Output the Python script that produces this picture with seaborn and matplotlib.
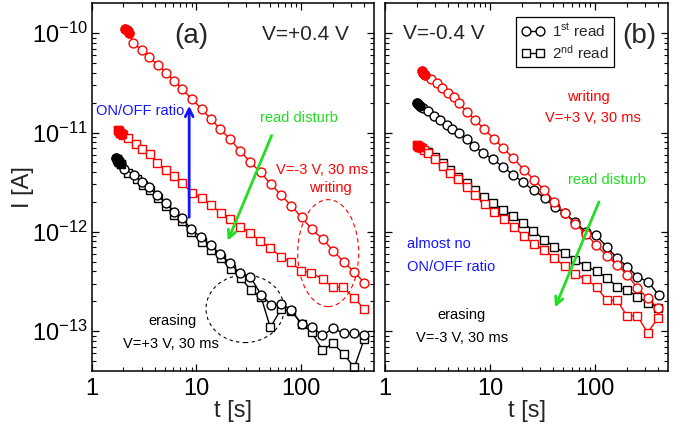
import numpy as np
import pandas as pd
import seaborn as sns
import matplotlib
matplotlib.use("Agg")
import matplotlib.pyplot as plt
from matplotlib.patches import Ellipse
from matplotlib.lines import Line2D
from matplotlib.ticker import FixedLocator, NullFormatter, LogFormatterSciNotation

# ---------------- data ----------------
# panel (a): V = +0.4 V read
ta_w1 = [2.10, 2.15, 2.20, 2.25, 2.49, 2.99, 3.54, 4.25, 5.10, 6.12, 7.36, 9.08, 11.2, 13.7, 16.8,
         20.8, 26.0, 32.7, 41.0, 51.3, 64.5, 80.9, 101, 127, 161, 203, 255, 320, 401]
Ia_w1 = [1.10e-10, 1.07e-10, 1.04e-10, 1.01e-10, 8.04e-11, 6.79e-11, 5.73e-11, 4.80e-11, 4.01e-11,
         3.31e-11, 2.73e-11, 2.16e-11, 1.72e-11, 1.37e-11, 1.09e-11, 8.63e-12, 6.58e-12, 5.02e-12, 3.98e-12,
         3.03e-12, 2.35e-12, 1.82e-12, 1.40e-12, 1.06e-12, 8.42e-13, 6.46e-13, 4.97e-13, 3.97e-13, 3.08e-13]

ta_w2 = [1.77, 1.82, 1.88, 1.94, 2.00, 2.23, 2.62, 3.03, 3.59, 4.21, 5.10, 6.08, 7.36, 9.08, 11.2, 13.7,
         17.0, 21.1, 26.2, 32.7, 40.7, 50.7, 64.5, 80.3, 100, 124.5, 161, 200, 249, 322, 401]
Ia_w2 = [1.06e-11, 1.03e-11, 1.00e-11, 9.7e-12, 9.4e-12, 8.77e-12, 7.62e-12, 6.84e-12, 6.04e-12, 4.91e-12,
         4.20e-12, 3.65e-12, 3.08e-12, 2.45e-12, 2.18e-12, 1.87e-12, 1.56e-12, 1.34e-12, 1.13e-12, 9.68e-13,
         8.09e-13, 6.84e-13, 5.62e-13, 4.94e-13, 4.06e-13, 3.88e-13, 3.33e-13, 2.77e-13, 2.77e-13, 2.17e-13,
         1.66e-13]

ta_e1 = [1.72, 1.77, 1.82, 1.87, 1.92, 2.04, 2.55, 3.03, 3.54, 4.21, 5.10, 6.15, 7.29, 8.89, 11.0, 13.7,
         16.7, 20.8, 26.0, 32.7, 41.6, 51.8, 64.9, 80.9, 101, 126, 160, 202, 255, 322, 401]
Ia_e1 = [5.5e-12, 5.3e-12, 5.1e-12, 4.95e-12, 4.8e-12, 4.30e-12, 3.74e-12, 3.18e-12, 2.80e-12, 2.34e-12,
         1.94e-12, 1.60e-12, 1.37e-12, 1.07e-12, 8.79e-13, 7.38e-13, 5.98e-13, 4.83e-13, 3.83e-13, 3.52e-13,
         2.32e-13, 1.84e-13, 1.88e-13, 1.63e-13, 1.17e-13, 1.11e-13, 9.05e-14, 1.07e-13, 9.48e-14, 9.53e-14,
         9.16e-14]

ta_e2 = [1.74, 1.79, 1.84, 1.90, 2.23, 2.68, 3.10, 3.61, 4.31, 5.10, 6.15, 7.32, 8.92, 11.2, 13.7, 17.1,
         21.4, 26.6, 33.4, 41.4, 50.8, 64.5, 80.9, 101, 126, 160, 202, 255, 322, 401]
Ia_e2 = [5.4e-12, 5.2e-12, 5.0e-12, 4.85e-12, 3.89e-12, 3.41e-12, 2.97e-12, 2.61e-12, 2.19e-12, 1.83e-12,
         1.49e-12, 1.29e-12, 9.86e-13, 7.91e-13, 6.57e-13, 5.42e-13, 4.18e-13, 3.41e-13, 2.58e-13, 2.22e-13,
         1.09e-13, 1.67e-13, 1.60e-13, 1.18e-13, 9.82e-14, 6.47e-14, 7.55e-14, 5.89e-14, 4.31e-14, 8.34e-14]

# panel (b): V = -0.4 V read
tb_w1 = [2.24, 2.30, 2.36, 2.42, 2.74, 3.11, 3.51, 4.01, 4.57, 5.07, 6.00, 7.20, 8.83, 11.0, 13.4,
         16.7, 21.2, 26.4, 32.9, 41.0, 51.3, 64.6, 81.7, 103, 129, 163, 203, 253, 318, 401]
Ib_w1 = [4.12e-11, 4.00e-11, 3.88e-11, 3.76e-11, 3.44e-11, 3.13e-11, 2.83e-11, 2.52e-11, 2.27e-11,
         1.97e-11, 1.62e-11, 1.34e-11, 1.08e-11, 8.57e-12, 6.95e-12, 5.51e-12, 4.20e-12, 3.33e-12, 2.64e-12,
         2.01e-12, 1.54e-12, 1.21e-12, 9.53e-13, 7.38e-13, 5.74e-13, 4.65e-13, 3.68e-13, 2.74e-13, 2.14e-13,
         1.70e-13]

tb_e1 = [2.02, 2.07, 2.12, 2.17, 2.22, 2.32, 2.55, 2.95, 3.34, 3.87, 4.38, 5.07, 6.00, 7.09, 8.63, 10.7,
         13.4, 16.7, 20.8, 26.1, 33.1, 41.3, 51.4, 64.6, 81.5, 103, 129, 163, 203, 253, 320, 404]
Ib_e1 = [1.97e-11, 1.93e-11, 1.89e-11, 1.85e-11, 1.81e-11, 1.76e-11, 1.66e-11, 1.47e-11, 1.34e-11, 1.19e-11,
         1.09e-11, 9.84e-12, 8.57e-12, 7.33e-12, 6.19e-12, 5.38e-12, 4.48e-12, 3.74e-12, 3.14e-12, 2.61e-12,
         2.20e-12, 1.79e-12, 1.54e-12, 1.26e-12, 1.00e-12, 9.20e-13, 7.10e-13, 5.42e-13, 4.47e-13, 3.54e-13,
         3.15e-13, 2.32e-13]

tb_w2 = [2.02, 2.07, 2.12, 2.17, 2.23, 2.35, 2.58, 2.99, 3.54, 4.16, 4.99, 6.00, 7.20, 8.96, 11.0, 13.6,
         16.9, 21.1, 26.2, 33.0, 41.1, 51.8, 65.2, 82.1, 104, 129, 163, 202, 253, 318, 401]
Ib_w2 = [7.50e-12, 7.35e-12, 7.22e-12, 7.08e-12, 6.95e-12, 6.68e-12, 6.19e-12, 5.36e-12, 4.56e-12, 3.92e-12,
         3.37e-12, 2.83e-12, 2.35e-12, 1.89e-12, 1.58e-12, 1.34e-12, 1.13e-12, 9.00e-13, 7.55e-13, 6.57e-13,
         5.46e-13, 4.49e-13, 3.77e-13, 3.32e-13, 2.79e-13, 2.04e-13, 2.04e-13, 1.42e-13, 1.42e-13, 9.66e-14,
         1.37e-13]

tb_e2 = [2.57, 2.99, 3.54, 4.16, 4.99, 6.00, 7.20, 8.83, 10.7, 13.4, 16.7, 20.8, 25.9, 33.0, 41.1, 51.8,
         65.2, 82.1, 104, 129, 163, 203, 253, 318, 402]
Ib_e2 = [6.38e-12, 5.72e-12, 4.91e-12, 4.20e-12, 3.60e-12, 3.08e-12, 2.64e-12, 2.26e-12, 1.94e-12, 1.66e-12,
         1.45e-12, 1.22e-12, 1.03e-12, 8.28e-13, 7.10e-13, 6.09e-13, 5.21e-13, 4.54e-13, 3.99e-13, 3.46e-13,
         2.79e-13, 2.62e-13, 2.22e-13, 1.94e-13, 1.73e-13]

x_major = [1, 10, 100]
x_labels = ["1", "10", "100"]
y_major = [1e-13, 1e-12, 1e-11, 1e-10]
legend_labels = ["1$^{\\mathrm{st}}$ read", "2$^{\\mathrm{nd}}$ read"]

# ---------------- style ----------------
sns.set_theme(style="ticks")
plt.rcParams["font.family"] = ["Liberation Sans", "DejaVu Sans"]
plt.rcParams["mathtext.fontset"] = "custom"
plt.rcParams["mathtext.rm"] = "Liberation Sans"
plt.rcParams["mathtext.it"] = "Liberation Sans:italic"
plt.rcParams["mathtext.bf"] = "Liberation Sans:bold"
plt.rcParams["axes.edgecolor"] = "black"
plt.rcParams["xtick.color"] = "black"
plt.rcParams["ytick.color"] = "black"

RED = "#ff0000"
BLK = "#000000"
BLUE = "#1414ff"
GREEN = "#22dd22"
MS_O, MS_S, MEW, LW = 6.4, 5.4, 1.0, 1.0

fig = plt.figure(figsize=(6.87, 4.25), dpi=100)
ax_a = fig.add_axes([0.1335, 0.1278, 0.4113, 0.8645])
ax_b = fig.add_axes([0.5604, 0.1278, 0.4124, 0.8645])


def series(ax, t, I, color, marker, n_dense):
    """n_dense: leading points so closely packed that they merge into a solid blob"""
    ms = MS_O if marker == "o" else MS_S
    df = pd.DataFrame({"t": t, "I": I})
    sns.lineplot(data=df, x="t", y="I", ax=ax, color=color, marker=marker,
                 markersize=ms, markerfacecolor="white", markeredgecolor=color,
                 markeredgewidth=MEW, linewidth=LW, estimator=None, sort=False,
                 legend=False)
    if n_dense:
        head = df.iloc[:n_dense]
        sns.scatterplot(data=head, x="t", y="I", ax=ax, marker=marker, s=ms ** 2,
                        color=color, edgecolor=color, linewidth=MEW, legend=False, zorder=2.5)


for ax in (ax_a, ax_b):
    ax.set_xscale("log")
    ax.set_yscale("log")

series(ax_a, ta_e2, Ia_e2, BLK, "s", 4)
series(ax_a, ta_e1, Ia_e1, BLK, "o", 4)
series(ax_a, ta_w2, Ia_w2, RED, "s", 4)
series(ax_a, ta_w1, Ia_w1, RED, "o", 4)

series(ax_b, tb_e2, Ib_e2, BLK, "s", 0)
series(ax_b, tb_w2, Ib_w2, RED, "s", 4)
series(ax_b, tb_e1, Ib_e1, BLK, "o", 4)
series(ax_b, tb_w1, Ib_w1, RED, "o", 4)

minor_x = [m * 10 ** k for k in range(0, 3) for m in range(2, 10) if m * 10 ** k < 500]
minor_y = [m * 10.0 ** k for k in range(-14, -9) for m in range(2, 10) if 4e-14 < m * 10.0 ** k < 2e-10]
for ax in (ax_a, ax_b):
    ax.set_xlim(1, 500)
    ax.set_ylim(4e-14, 2e-10)
    ax.xaxis.set_major_locator(FixedLocator(x_major))
    ax.set_xticklabels(x_labels)
    ax.xaxis.set_minor_locator(FixedLocator(minor_x))
    ax.xaxis.set_minor_formatter(NullFormatter())
    ax.yaxis.set_major_locator(FixedLocator(y_major))
    ax.yaxis.set_major_formatter(LogFormatterSciNotation())
    ax.yaxis.set_minor_locator(FixedLocator(minor_y))
    ax.yaxis.set_minor_formatter(NullFormatter())
    ax.tick_params(which="both", direction="in", top=True, right=True)
    ax.tick_params(which="major", length=5, width=0.9, labelsize=17, pad=5)
    ax.tick_params(axis="y", which="major", pad=3)
    ax.tick_params(which="minor", length=2.6, width=0.8)
    for s in ax.spines.values():
        s.set_linewidth(1.1)
        s.set_color("black")
    ax.set_xlabel("t [s]", fontsize=17, labelpad=0)

ax_a.set_ylabel("I [A]", fontsize=17)
ax_a.yaxis.set_label_coords(-0.205, 0.5)
ax_b.set_ylabel("")
ax_b.tick_params(axis="y", labelleft=False)

# ---------------- annotations panel (a) ----------------
fa = dict(transform=ax_a.transAxes)
ax_a.text(0.351, 0.893, "(a)", fontsize=20, ha="center", va="baseline", **fa)
ax_a.text(0.758, 0.900, "V=+0.4 V", fontsize=15, ha="center", va="baseline", **fa)
ax_a.text(0.015, 0.696, "ON/OFF ratio", fontsize=10.5, color=BLUE, ha="left", va="baseline", **fa)
ax_a.annotate("", xy=(0.345, 0.7285), xytext=(0.345, 0.410), xycoords="axes fraction",
              arrowprops=dict(arrowstyle="->", color=BLUE, lw=2, mutation_scale=14))
ax_a.text(0.5955, 0.678, "read disturb", fontsize=10.5, color=GREEN, ha="left", va="baseline", **fa)
ax_a.annotate("", xy=(0.4777, 0.3467), xytext=(0.6405, 0.647), xycoords="axes fraction",
              arrowprops=dict(arrowstyle="->", color=GREEN, lw=2, mutation_scale=14))
ax_a.text(0.816, 0.535, "V=-3 V, 30 ms", fontsize=10.5, color=RED, ha="center", va="baseline", **fa)
ax_a.text(0.843, 0.487, "writing", fontsize=10.5, color=RED, ha="center", va="baseline", **fa)
ax_a.text(0.287, 0.1245, "erasing", fontsize=10.5, color=BLK, ha="center", va="baseline", **fa)
ax_a.text(0.282, 0.061, "V=+3 V, 30 ms", fontsize=10.5, color=BLK, ha="center", va="baseline", **fa)
ax_a.add_patch(Ellipse((0.837, 0.320), 0.216, 0.291, transform=ax_a.transAxes, fill=False,
                       edgecolor=RED, lw=0.8, ls=(0, (4, 3))))
ax_a.add_patch(Ellipse((0.5425, 0.1685), 0.276, 0.184, transform=ax_a.transAxes, fill=False,
                       edgecolor=BLK, lw=0.8, ls=(0, (3, 3))))

# ---------------- annotations panel (b) ----------------
fb = dict(transform=ax_b.transAxes)
ax_b.text(0.209, 0.902, "V=-0.4 V", fontsize=15, ha="center", va="baseline", **fb)
ax_b.text(0.897, 0.891, "(b)", fontsize=20, ha="center", va="baseline", **fb)
ax_b.text(0.7166, 0.734, "writing", fontsize=10.5, color=RED, ha="center", va="baseline", **fb)
ax_b.text(0.735, 0.678, "V=+3 V, 30 ms", fontsize=10.5, color=RED, ha="center", va="baseline", **fb)
ax_b.text(0.646, 0.507, "read disturb", fontsize=10.5, color=GREEN, ha="left", va="baseline", **fb)
ax_b.annotate("", xy=(0.5965, 0.1652), xytext=(0.759, 0.4665), xycoords="axes fraction",
              arrowprops=dict(arrowstyle="->", color=GREEN, lw=2, mutation_scale=14))
ax_b.text(0.0766, 0.333, "almost no", fontsize=10.5, color=BLUE, ha="left", va="baseline", **fb)
ax_b.text(0.0766, 0.272, "ON/OFF ratio", fontsize=10.5, color=BLUE, ha="left", va="baseline", **fb)
ax_b.text(0.2707, 0.140, "erasing", fontsize=10.5, color=BLK, ha="center", va="baseline", **fb)
ax_b.text(0.273, 0.079, "V=-3 V, 30 ms", fontsize=10.5, color=BLK, ha="center", va="baseline", **fb)

handles = [Line2D([], [], color=BLK, marker="o", markersize=MS_O, markerfacecolor="white",
                  markeredgewidth=MEW, lw=LW),
           Line2D([], [], color=BLK, marker="s", markersize=MS_S, markerfacecolor="white",
                  markeredgewidth=MEW, lw=LW)]
leg = ax_b.legend(handles, legend_labels, loc="upper left", bbox_to_anchor=(0.4624, 0.9635),
                  fontsize=11, frameon=True, fancybox=False, edgecolor="black", framealpha=1,
                  borderpad=0.35, handlelength=1.5, handletextpad=0.5, labelspacing=0.25,
                  numpoints=2, borderaxespad=0)
leg.get_frame().set_linewidth(0.9)

fig.savefig("out.png", dpi=100)
